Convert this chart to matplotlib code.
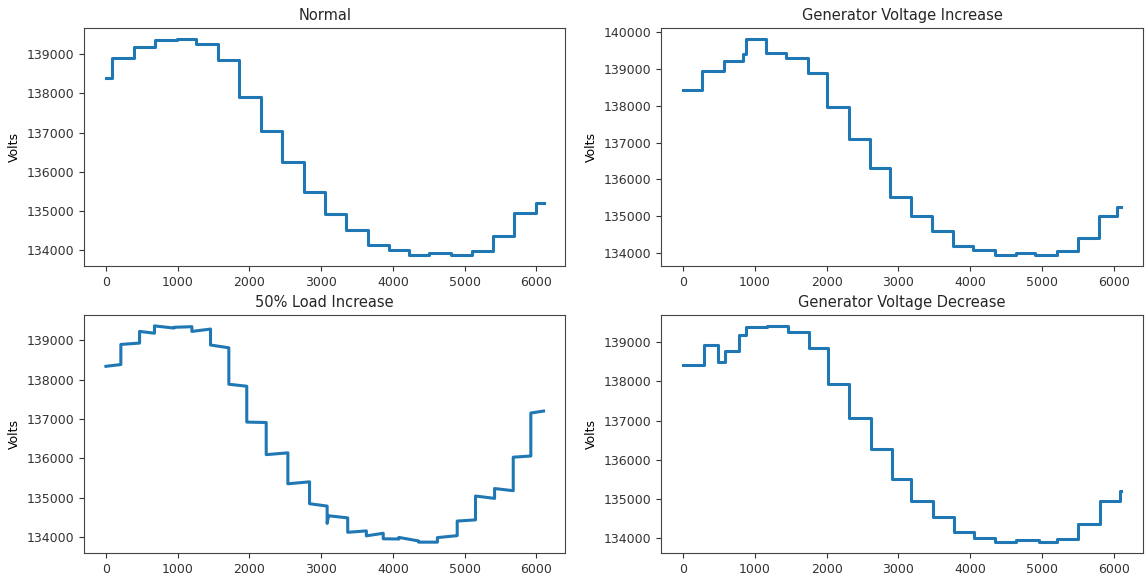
import matplotlib
matplotlib.use("Agg")
from matplotlib import pyplot as plt

t_end = 6100

# Normal
t_normal = [0, 78, 385, 688, 870, 985, 1260, 1557, 1859, 2156, 2458, 2755, 3047,
            3344, 3646, 3943, 4219, 4505, 4812, 5104, 5396, 5693, 5990]
v_normal = [138400, 138900, 139180, 139370, 139350, 139385, 139250, 138845, 137915,
            137050, 136255, 135485, 134930, 134515, 134130, 134005, 133875, 133940,
            133890, 133990, 134355, 134965, 135195]

# Generator Voltage Increase
t_inc = [0, 259, 564, 828, 869, 1154, 1438, 1733, 2007, 2318, 2607, 2876, 3171,
         3471, 3766, 4045, 4345, 4645, 4904, 5204, 5509, 5799, 6053]
v_inc = [138445, 138955, 139225, 139425, 139820, 139445, 139315, 138895, 137975,
         137110, 136310, 135525, 134990, 134580, 134190, 134065, 133930, 133990,
         133935, 134045, 134400, 134990, 135245]

# 50% Load Increase (levels drift inside each interval)
t_load = [0, 208, 469, 677, 948, 1198, 1458, 1713, 1963, 2234, 2536, 2838, 3083,
          3100, 3370, 3630, 3865, 4083, 4359, 4620, 4896, 5151, 5417, 5677, 5922]
v_load_start = [138335, 138890, 139220, 139360, 139325, 139220, 138875, 137880,
                136920, 136095, 135355, 134850, 134350, 134545, 134125, 134035,
                133960, 133995, 133875, 133990, 134410, 135045, 135235, 136030,
                137150]
v_load_end = [138380, 138925, 139175, 139305, 139340, 139280, 138805, 137830,
              136910, 136140, 135405, 134790, 134520, 134490, 134160, 134100,
              133955, 133905, 133875, 134040, 134440, 134985, 135180, 136060,
              137200]

# Generator Voltage Decrease
t_dec = [0, 290, 486, 585, 781, 869, 1169, 1464, 1759, 2018, 2312, 2618, 2912,
         3181, 3481, 3776, 4050, 4345, 4645, 4955, 5214, 5509, 5810, 6090]
v_dec = [138425, 138925, 138485, 138775, 139185, 139375, 139415, 139270, 138855,
         137930, 137070, 136275, 135500, 134940, 134540, 134160, 134015, 133900,
         133950, 133900, 133990, 134355, 134940, 135200]


def step_path(times, start, end=None):
    if end is None:
        end = start
    edges = list(times) + [t_end]
    xs, ys = [], []
    for i in range(len(start)):
        xs += [edges[i], edges[i + 1]]
        ys += [start[i], end[i]]
    return xs, ys


plt.rcParams['font.size'] = 9
plt.rcParams['axes.titlesize'] = 10.5
plt.rcParams['text.color'] = '#262626'
plt.rcParams['xtick.color'] = '#333333'
plt.rcParams['ytick.color'] = '#333333'
plt.rcParams['axes.edgecolor'] = '#444444'

fig, axes = plt.subplots(2, 2, figsize=(11.45, 5.76), dpi=100)
plt.subplots_adjust(left=0.0734, right=0.998, top=0.951, bottom=0.040,
                    wspace=0.199, hspace=0.206)

panels = [
    (axes[0, 0], "Normal", step_path(t_normal, v_normal)),
    (axes[0, 1], "Generator Voltage Increase", step_path(t_inc, v_inc)),
    (axes[1, 0], "50% Load Increase", step_path(t_load, v_load_start, v_load_end)),
    (axes[1, 1], "Generator Voltage Decrease", step_path(t_dec, v_dec)),
]

for ax, title, (xs, ys) in panels:
    ax.plot(xs, ys, color="#1f77b4", linewidth=2.2)
    ax.set_title(title)
    ax.set_ylabel("Volts")
    ax.set_xticks([0, 1000, 2000, 3000, 4000, 5000, 6000])

plt.savefig("out.png")
